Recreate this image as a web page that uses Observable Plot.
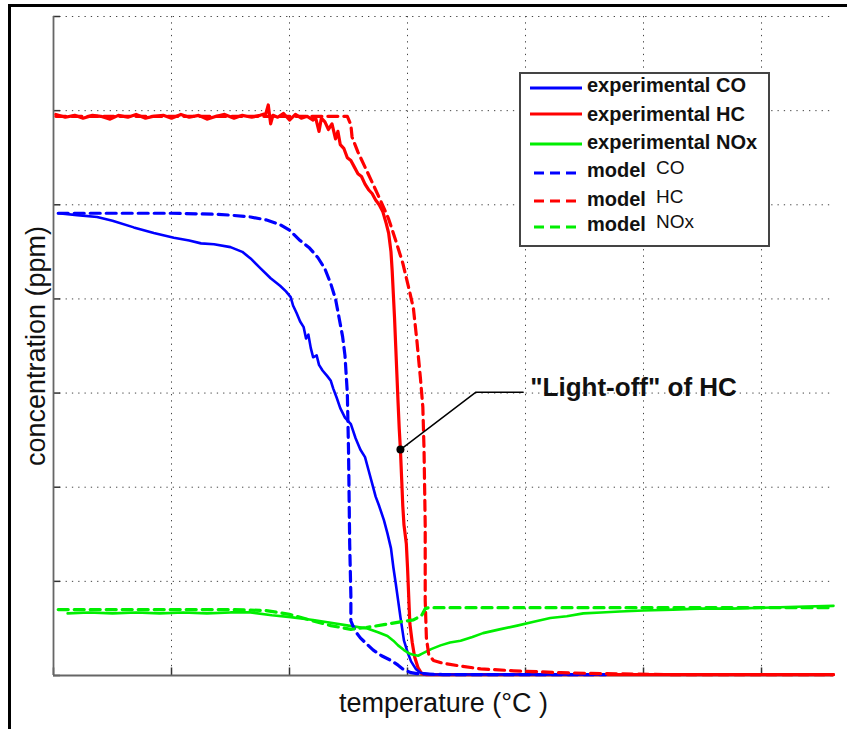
<!DOCTYPE html>
<html><head><meta charset="utf-8">
<script src="https://cdn.jsdelivr.net/npm/d3@7"></script>
<script src="https://cdn.jsdelivr.net/npm/@observablehq/plot@0.6"></script>
<style>
html,body{margin:0;padding:0;background:#fff;}
#wrap{position:relative;width:847px;height:729px;overflow:hidden;background:#fff;}
#wrap > svg.main{position:absolute;left:0;top:0;}
#frame{position:absolute;left:8px;top:4px;width:900px;height:800px;border-left:3px solid #000;border-top:3px solid #000;pointer-events:none;}
</style></head><body>
<div id="wrap"><div id="frame"></div></div>
<script>
// ---- tick positions (no labels in the original) ----
const xTicks = [0,1,2,3,4,5,6];
const yTicks = [0,1,2,3,4,5,6,7];

// ---- experimental HC ----
const expHC_x = [0.02,0.1,0.18,0.25,0.33,0.4,0.48,0.55,0.63,0.7,0.78,0.85,0.93,1.0,1.08,1.15,1.23,1.3,1.38,1.45,1.53,1.6,1.68,1.75,1.80,1.82,1.84,1.86,1.9,1.95,2.0,2.05,2.1,2.15,2.2,
  2.22,2.25,2.27,2.30,2.33,2.36,2.39,2.41,2.43,2.46,2.49,2.52,2.55,2.58,2.61,2.64,2.67,2.70,2.73,2.76,2.79,2.82,2.84,2.86,2.87,2.88,2.89,2.90,2.91,2.92,2.93,2.94,2.95,2.96,2.97,2.99,3.00,3.01,3.02,3.04,3.06,3.09,3.12,3.16,6.61];
const expHC_y = [5.96,5.93,5.95,5.92,5.95,5.94,5.91,5.95,5.93,5.96,5.92,5.94,5.95,5.92,5.96,5.93,5.95,5.91,5.94,5.96,5.92,5.95,5.93,5.95,5.97,6.06,5.86,5.95,5.93,5.97,5.90,5.96,5.92,5.94,5.90,
  5.93,5.78,5.92,5.88,5.80,5.86,5.70,5.78,5.64,5.60,5.50,5.47,5.40,5.33,5.30,5.22,5.16,5.12,5.05,5.00,4.93,4.80,4.70,4.50,4.30,4.05,3.80,3.50,3.20,2.90,2.62,2.40,2.10,1.80,1.60,1.40,1.15,0.85,0.55,0.35,0.20,0.08,0.02,0.01,0.01];

// ---- model HC ----
const modelHC_x = [0.02,0.5,1.0,1.5,2.0,2.3,2.49,2.52,2.53,2.58,2.64,2.70,2.77,2.84,2.90,2.96,3.01,3.05,3.08,3.11,3.13,3.14,3.15,3.15,3.16,3.18,3.22,3.30,3.45,3.62,3.9,4.3,4.64,5.2,6.61];
const modelHC_y = [5.94,5.94,5.94,5.94,5.94,5.94,5.94,5.85,5.72,5.56,5.40,5.24,5.05,4.85,4.62,4.38,4.12,3.90,3.55,3.15,2.85,2.40,1.60,0.80,0.40,0.22,0.16,0.13,0.10,0.07,0.05,0.03,0.02,0.01,0.01];

// ---- experimental CO ----
const expCO_x = [0.04,0.2,0.37,0.5,0.68,0.85,1.02,1.15,1.25,1.36,1.5,1.6,1.67,1.75,1.84,1.92,1.97,2.01,2.03,2.06,2.09,2.12,2.14,2.16,2.18,2.20,2.23,2.25,2.28,2.32,2.35,2.37,2.40,2.43,2.47,2.52,2.56,2.60,2.64,2.67,2.70,2.73,2.76,2.80,2.83,2.86,2.88,2.90,2.92,2.94,2.97,3.00,3.03,3.07,3.11,3.2,4.0,4.68];
const expCO_y = [4.91,4.89,4.87,4.83,4.76,4.70,4.65,4.62,4.59,4.58,4.55,4.50,4.43,4.33,4.22,4.14,4.08,4.02,3.93,3.85,3.76,3.70,3.58,3.62,3.48,3.38,3.40,3.30,3.24,3.18,3.13,3.05,2.95,2.84,2.74,2.67,2.52,2.40,2.32,2.18,2.04,1.90,1.80,1.65,1.51,1.35,1.15,0.98,0.80,0.62,0.37,0.25,0.15,0.07,0.03,0.01,0.01,0.01];

// ---- model CO ----
const modelCO_x = [0.04,0.5,1.0,1.36,1.5,1.67,1.8,1.92,2.0,2.09,2.17,2.24,2.30,2.35,2.39,2.42,2.45,2.47,2.49,2.50,2.51,2.52,2.52,2.54,2.57,2.60,2.65,2.71,2.78,2.86,2.92,2.97,3.03,3.08,3.3,4.68];
const modelCO_y = [4.91,4.91,4.91,4.90,4.89,4.87,4.84,4.79,4.73,4.62,4.54,4.44,4.32,4.16,4.00,3.80,3.60,3.40,3.00,2.40,1.40,0.85,0.58,0.52,0.45,0.40,0.34,0.27,0.21,0.16,0.11,0.06,0.03,0.02,0.01,0.01];

// ---- experimental NOx ----
const expNOx_x = [0.12,0.3,0.5,0.7,0.9,1.1,1.3,1.5,1.67,1.85,2.01,2.2,2.35,2.5,2.66,2.75,2.83,2.88,2.92,2.97,3.02,3.05,3.09,3.12,3.2,3.28,3.36,3.45,3.55,3.64,3.78,3.93,4.07,4.21,4.35,4.49,4.64,4.8,5.0,5.25,5.48,5.75,6.01,6.3,6.61];
const expNOx_y = [0.66,0.67,0.66,0.67,0.66,0.67,0.66,0.67,0.67,0.64,0.62,0.59,0.56,0.53,0.50,0.46,0.42,0.37,0.32,0.27,0.23,0.22,0.21,0.23,0.28,0.32,0.35,0.37,0.41,0.45,0.49,0.53,0.57,0.61,0.63,0.66,0.67,0.68,0.69,0.70,0.71,0.71,0.72,0.73,0.74];

// ---- model NOx ----
const modelNOx_x = [0.04,0.5,1.0,1.5,1.8,2.0,2.2,2.35,2.52,2.65,2.80,2.94,3.05,3.12,3.15,3.18,3.5,4.0,5.0,6.0,6.61];
const modelNOx_y = [0.70,0.70,0.70,0.70,0.69,0.65,0.58,0.53,0.49,0.51,0.54,0.57,0.59,0.64,0.71,0.72,0.72,0.72,0.72,0.72,0.72];

// ---- annotation ----
const lightoff_x = [2.94, 3.58, 3.98];
const lightoff_y = [2.40, 3.01, 3.01];
const lightoffText = "\"Light-off\" of HC";

// ---- labels / legend ----
const xLabel = "temperature (°C )";
const yLabel = "concentration (ppm)";
const legendPrefix = ["experimental", "experimental", "experimental", "model", "model", "model"];
const legendSpecies = ["CO", "HC", "NOx", "CO", "HC", "NOx"];
const legendColors = ["#0000ff", "#ff0000", "#00ee00", "#0000ff", "#ff0000", "#00ee00"];
const legendDashed = [false, false, false, true, true, true];

const BLUE = "#0000ff", RED = "#ff0000", GREEN = "#00ee00";
const DASH = "10,6";

function series(xs, ys, opts) {
  return Plot.line(d3.range(xs.length), {x: i => xs[i], y: i => ys[i], strokeLinejoin: "round", ...opts});
}

const gridStyle = {stroke: "#444", strokeWidth: 1, strokeDasharray: "1.3,5"};

const svg = Plot.plot({
  width: 847, height: 729,
  marginLeft: 53, marginRight: 14, marginTop: 16, marginBottom: 54,
  style: {background: "transparent", fontFamily: "'Liberation Sans', Arial, sans-serif", overflow: "visible"},
  x: {domain: [0, 6.61], axis: null},
  y: {domain: [0, 7], axis: null},
  marks: [
    Plot.ruleX(xTicks.slice(1), gridStyle),
    Plot.ruleY(yTicks.slice(1), gridStyle),
    Plot.ruleX(xTicks, {y1: 0, y2: 0.08, stroke: "#333", strokeWidth: 1.5}),
    Plot.ruleY(yTicks, {x1: 0, x2: 0.06, stroke: "#333", strokeWidth: 1.5}),
    Plot.ruleX([0], {stroke: "#666", strokeWidth: 1.8}),
    Plot.ruleY([0], {stroke: "#666", strokeWidth: 1.8}),
    series(expHC_x, expHC_y, {stroke: RED, strokeWidth: 3.2}),
    series(expCO_x, expCO_y, {stroke: BLUE, strokeWidth: 2.6}),
    series(expNOx_x, expNOx_y, {stroke: GREEN, strokeWidth: 2.6}),
    series(modelCO_x, modelCO_y, {stroke: BLUE, strokeWidth: 3.2, strokeDasharray: DASH}),
    series(modelHC_x, modelHC_y, {stroke: RED, strokeWidth: 3.2, strokeDasharray: DASH}),
    series(modelNOx_x, modelNOx_y, {stroke: GREEN, strokeWidth: 3.2, strokeDasharray: DASH}),
    series(lightoff_x, lightoff_y, {stroke: "#000", strokeWidth: 1.5, strokeLinejoin: "miter"}),
    Plot.dot([0], {x: () => lightoff_x[0], y: () => lightoff_y[0], r: 4, fill: "#000", stroke: "none"}),
    Plot.text([lightoffText], {x: () => lightoff_x[2] + 0.06, y: () => lightoff_y[2], text: d => d, textAnchor: "start", fontSize: 26, fontWeight: "bold", fill: "#111", dy: -4}),
    Plot.text([xLabel], {text: d => d, frameAnchor: "bottom", textAnchor: "middle", lineAnchor: "middle", dy: 28, fontSize: 27, fill: "#111"}),
    Plot.text([yLabel], {text: d => d, frameAnchor: "left", textAnchor: "middle", lineAnchor: "middle", dx: -17, rotate: -90, fontSize: 27, fill: "#111"})
  ]
});
svg.classList.add("main");
document.getElementById("wrap").insertBefore(svg, document.getElementById("frame"));

// ---- legend ----
const rowLine = [16, 42, 72, 101, 129, 155];
const rowBase = [20, 49, 77, 105, 134, 159];
const lg = d3.select("#wrap").append("svg")
  .attr("width", 252).attr("height", 176)
  .style("position", "absolute").style("left", "519px").style("top", "72px")
  .style("font-family", "'Liberation Sans', Arial, sans-serif");
lg.append("rect").attr("x", 1).attr("y", 1).attr("width", 249).attr("height", 173)
  .attr("fill", "#fff").attr("stroke", "#444").attr("stroke-width", 2);
legendPrefix.forEach((p, i) => {
  lg.append("line")
    .attr("x1", legendDashed[i] ? 15 : 11).attr("x2", 63)
    .attr("y1", rowLine[i]).attr("y2", rowLine[i])
    .attr("stroke", legendColors[i]).attr("stroke-width", 3.2)
    .attr("stroke-dasharray", legendDashed[i] ? "10,6" : null);
  const t = lg.append("text").attr("x", 68).attr("y", rowBase[i]).attr("fill", "#111");
  if (!legendDashed[i]) {
    t.attr("font-size", 20).attr("font-weight", "bold").text(p + " " + legendSpecies[i]);
  } else {
    t.append("tspan").attr("font-size", 20).attr("font-weight", "bold").text(p);
    t.append("tspan").attr("x", 137).attr("dy", -3).attr("font-size", 19).text(legendSpecies[i]);
  }
});
</script>
</body></html>
